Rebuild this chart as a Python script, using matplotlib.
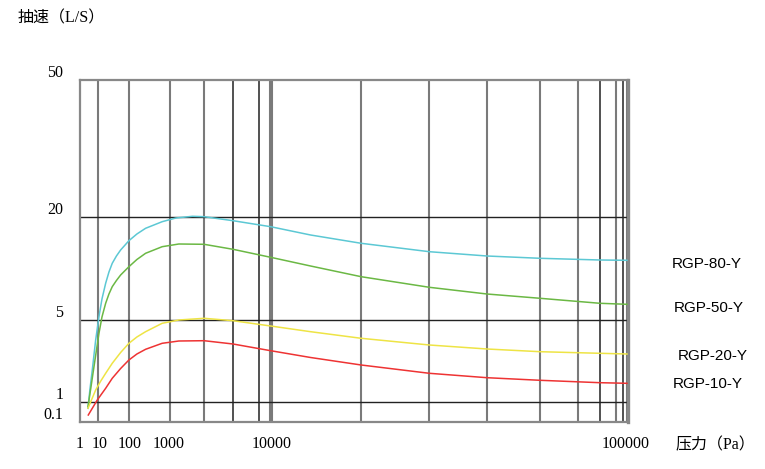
import matplotlib
matplotlib.use("Agg")
import matplotlib.pyplot as plt

# ---------- Data ---------- #
# chart positions: x runs 0..548 across the frame, y runs 0..342 bottom to top
x_ticks = [-1, 18.3, 48.3, 88.3, 190.7, 545.7]
x_labels = ["1", "10", "100", "1000", "10000", "100000"]

y_ticks = [0, 20, 102, 205.5, 342]
y_labels = ["0.1", "1", "5", "20", "50"]

grid_gray = [17, 48, 89, 123, 189, 191.5, 281, 349, 407, 460, 498, 536, 547]
grid_dark = [152, 178, 520, 543]
grid_h = [20, 102, 205.5]

x80 = [7, 9, 11.3, 14.7, 18, 21, 24.7, 28, 31.3, 35.5, 39.7, 48, 56, 64.7, 81.3,
       95, 111.7, 123.3, 152.3, 190, 230, 280.7, 349, 406.7, 460, 520, 547]
y80 = [13.7, 33, 52, 82, 105.3, 123, 138.7, 150, 158.7, 166, 172, 181.3, 188,
       193.7, 200.3, 204, 205.7, 205.3, 201.3, 195.3, 187, 178.7, 170.3, 166,
       163.7, 162, 161.7]

x50 = [7, 10, 13, 18, 21, 24.7, 28, 31.3, 35.5, 39.7, 48, 56, 64.7, 81.3, 98,
       123.3, 152.3, 190, 230, 280.7, 349, 406.7, 460, 520, 547]
y50 = [15.3, 35, 55.3, 88.7, 105, 118.7, 128, 135.3, 141.5, 147, 155.3, 162.5,
       168.7, 175.3, 178, 177.7, 172.7, 164.7, 156, 145.3, 134.7, 128, 123.7,
       118.7, 117.7]

x20 = [7, 14.7, 19.5, 24.7, 31.3, 39.7, 48, 56, 64.7, 81.3, 98, 123.3, 152.3, 190,
       230, 280.7, 349, 406.7, 460, 520, 547]
y20 = [13.7, 32, 40.5, 48.7, 58.7, 69.5, 78.7, 85, 90.3, 98.7, 102, 103.7,
       101.3, 96, 90.3, 83.7, 77, 73, 70.3, 68.7, 68]

x10 = [7.3, 16.3, 24.7, 31.3, 39.7, 48, 56, 64.7, 81.3, 98, 123.3, 152.3, 190,
       230, 280.7, 349, 406.7, 460, 520, 547]
y10 = [7, 22, 33.7, 43.7, 53.5, 62, 68, 72.7, 78.7, 81, 81.3, 78, 71.3, 64.5,
       57, 48.7, 44.3, 41.7, 39.3, 38.7]

series = [("RGP-80-Y", x80, y80, "#5cc8d4"),
          ("RGP-50-Y", x50, y50, "#6bb844"),
          ("RGP-20-Y", x20, y20, "#eee445"),
          ("RGP-10-Y", x10, y10, "#ee3333")]
label_y = [157.7, 113.7, 66.3, 38]
label_dx = [31.5, 33, 35.5, 32]

# ---------- Plotting ---------- #
serif = ["Liberation Serif", "Noto Sans CJK SC"]

fig = plt.figure(figsize=(7.65, 4.69), dpi=100)
ax = fig.add_axes([80/765, 47/469, 548/765, 342/469])
ax.set_xlim(0, 548)
ax.set_ylim(0, 342)

for x in grid_gray:
    ax.axvline(x, color="#7a7a7a", lw=1.5, zorder=1)
for x in grid_dark:
    ax.axvline(x, color="#222222", lw=1.1, zorder=1)
for y in grid_h:
    ax.axhline(y, color="#222222", lw=1.0, zorder=1)

for spine in ax.spines.values():
    spine.set_color("#888888")
    spine.set_linewidth(1.6)
ax.spines["right"].set_linewidth(2.4)

for (name, xs, ys, c), ly, dx in zip(series, label_y, label_dx):
    ax.plot(xs, ys, color=c, lw=1.1, zorder=3)
    ax.annotate(name, xy=(548, ly), xycoords="data", xytext=(dx, 0),
                textcoords="offset points", ha="left", va="center",
                fontsize=11, family="Liberation Sans", annotation_clip=False)

ax.set_xticks(x_ticks, x_labels)
ax.tick_params(axis="x", length=0, pad=10, labelsize=11.5)
for lbl in ax.get_xticklabels():
    lbl.set_family(serif)
ax.set_yticks([])
for pos, lbl in zip(y_ticks, y_labels):
    ax.annotate(lbl, xy=(0, pos), xycoords=("axes fraction", "data"),
                xytext=(-12, 5), textcoords="offset points", ha="right",
                va="center", fontsize=11.5, family=serif)

fig.text(18/765, 1 - 18/469, "抽速（L/S）", fontsize=11.5, family=serif,
         va="center", ha="left")
fig.text(676/765, 1 - 445/469, "压力（Pa）", fontsize=11.5, family=serif,
         va="center", ha="left")

fig.savefig("out.png", dpi=100)
